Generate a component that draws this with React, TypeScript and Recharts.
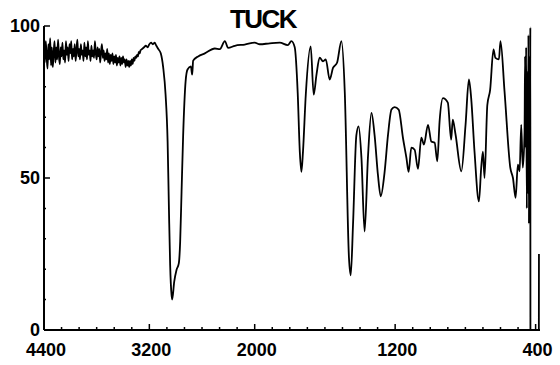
import { LineChart, Line, XAxis, YAxis } from "recharts";

// IR spectrum "TUCK": wavenumber (cm-1) vs transmittance (%)
// noisy O-H region, 4400-3300
const noiseWaves = [
  4400, 4390, 4380, 4370, 4360, 4350, 4340, 4330, 4320, 4310,
  4300, 4290, 4280, 4270, 4260, 4250, 4240, 4230, 4220, 4210,
  4200, 4190, 4180, 4170, 4160, 4150, 4140, 4130, 4120, 4110,
  4100, 4090, 4080, 4070, 4060, 4050, 4040, 4030, 4020, 4010,
  4000, 3990, 3980, 3970, 3960, 3950, 3940, 3930, 3920, 3910,
  3900, 3890, 3880, 3870, 3860, 3850, 3840, 3830, 3820, 3810,
  3800, 3790, 3780, 3770, 3760, 3750, 3740, 3730, 3720, 3710,
  3700, 3690, 3680, 3670, 3660, 3650, 3640, 3630, 3620, 3610,
  3600, 3590, 3580, 3570, 3560, 3550, 3540, 3530, 3520, 3510,
  3500, 3490, 3480, 3470, 3460, 3450, 3440, 3430, 3420, 3410,
  3400, 3390, 3380, 3370, 3360, 3350, 3340, 3330, 3320, 3310,
];
const noiseTrans = [
  92, 88, 95, 90, 86, 94, 89, 96, 87, 93,
  86.5, 91, 95, 88, 93, 89, 95.5, 90, 87.5, 93,
  90, 94.5, 89, 92, 88, 95, 90.5, 93, 88.5, 94,
  91, 95, 89, 92.5, 90, 94, 88.5, 92, 95.5, 90,
  92.5, 89, 94, 90.5, 92, 88.5, 94.5, 90, 93, 89,
  95, 90.5, 92, 88.5, 93.5, 90, 92, 89.5, 95, 91,
  89, 93, 90, 92.5, 88, 91.5, 94, 89.5, 92, 88.5,
  91, 89, 92.5, 88, 91, 87.5, 90.5, 88.5, 91, 87.5,
  90, 88, 90.5, 87, 89.5, 88, 90, 87, 89.5, 87.5,
  90, 88, 89, 86.5, 89, 87, 88.5, 86.5, 88.5, 87,
  89, 87.5, 89.5, 88.5, 90, 89.5, 90.5, 90, 91.5, 91,
];

// 3300-2000 (1x scale)
const waveHigh = [
  3300, 3280, 3260, 3240, 3220, 3200, 3180, 3160, 3140, 3120,
  3100, 3070, 3042, 3015, 2992, 2977, 2963, 2947, 2940, 2917,
  2890, 2864, 2849, 2833, 2815, 2787, 2765, 2727, 2712, 2701,
  2644, 2568, 2454, 2397, 2340, 2303, 2226, 2113, 2000,
];
const transHigh = [
  92, 92.5, 93, 93.5, 93, 94, 94.5, 94, 94.5, 93.5,
  92.5, 91, 86.3, 77.4, 62, 40, 21.4, 11.5, 10, 15.8,
  19.8, 22, 29, 45.5, 64, 81.8, 85.7, 86.7, 84, 88.6,
  90, 91, 92.6, 92.4, 95, 92.8, 93.5, 93.9, 94.5,
];

// 2000-380 (2x scale)
const waveLow = [
  1971, 1914, 1857, 1812, 1791, 1772, 1755, 1743, 1734, 1725,
  1709, 1681, 1664, 1648, 1630, 1611, 1595, 1573, 1554, 1531,
  1506, 1487, 1463, 1453, 1440, 1421, 1408, 1392, 1374, 1355,
  1335, 1317, 1298, 1282, 1260, 1241, 1221, 1203, 1180, 1155,
  1136, 1123, 1108, 1089, 1070, 1051, 1036, 1013, 994, 975,
  960, 947, 928, 900, 881, 872, 856, 823, 799, 780,
  767, 748, 723, 710, 700, 691, 675, 659, 640, 629,
  609, 600, 577, 544, 529, 514, 501, 491, 482, 473,
  463, 460, 457, 454, 450, 447, 444, 441, 438, 435,
  432, 430, 429.5, 381.5, 381,
];
const transLow = [
  94, 94.3, 94.5, 93.7, 95, 93, 78, 58.6, 52, 58.6,
  77.4, 93.3, 77.4, 84, 89.6, 88.4, 89, 82.4, 86.2, 87.9,
  95, 78.4, 23.7, 18, 34.6, 64, 67, 56.7, 32.4, 56.7,
  71.4, 64, 51, 44, 52, 64, 72.5, 73.3, 72.5, 63,
  56.7, 52, 60, 59.3, 53, 63.3, 61, 67.5, 62, 61.6,
  55.5, 68.6, 76.3, 74.8, 62.6, 69.2, 64.3, 52.2, 67.5, 82.4,
  76.3, 58.7, 42.3, 53.3, 58.7, 50, 74, 79, 92.3, 89.5,
  89, 95, 78.5, 53.3, 50, 43.5, 54.4, 52.2, 67.5, 53.4,
  65, 90, 60, 93, 40, 85, 45, 97, 35, 90,
  42, 99.5, 0, 0, 25,
];

const xMajor = [4400, 3200, 2000, 1200, 400];
const yMajor = [0, 50, 100];
const title = "TUCK";

// axis position: 4400..2000 at 1x, 2000..400 at 2x
function toPos(w: number) {
  return w >= 2000 ? 4400 - w : 2400 + (2000 - w) * 2;
}
function fromPos(p: number) {
  return p <= 2400 ? 4400 - p : 2000 - (p - 2400) / 2;
}

const waves = [...noiseWaves, ...waveHigh, ...waveLow];
const trans = [...noiseTrans, ...transHigh, ...transLow];
const data = waves.map((w, i) => ({ pos: toPos(w), t: trans[i] }));

const xTicks: number[] = [];
for (let p = 0; p <= 5600; p += 200) xTicks.push(p);
const yTicks: number[] = [];
for (let v = 0; v <= 100; v += 10) yTicks.push(v);

const labelFont = {
  fontFamily: "'Liberation Sans', Arial, sans-serif",
  fontWeight: 700,
  fontSize: 18,
  fill: "#000",
};

function XTick(props: any) {
  const { x, y, payload } = props;
  const w = Math.round(fromPos(payload.value));
  const major = xMajor.includes(w);
  return (
    <g>
      <line x1={x} x2={x} y1={y} y2={y - (major ? 6 : 3)} stroke="#000" strokeWidth={1.5} />
      {major && (
        <text x={x + 2} y={y + 26} textAnchor="middle" {...labelFont}>
          {w}
        </text>
      )}
    </g>
  );
}

function YTick(props: any) {
  const { x, y, payload } = props;
  const major = yMajor.includes(payload.value);
  return (
    <g>
      <line x1={x} x2={x + (major ? 6 : 2)} y1={y} y2={y} stroke="#000" strokeWidth={1.5} />
      {major && (
        <text x={x - 4} y={y + 6} textAnchor="end" {...labelFont}>
          {payload.value}
        </text>
      )}
    </g>
  );
}

export default function App() {
  return (
    <div style={{ position: "absolute", left: 0, top: 0, width: 560, height: 365, background: "#fff" }}>
      <div
        style={{
          position: "absolute",
          left: 213,
          top: 6,
          width: 100,
          textAlign: "center",
          fontFamily: "'Liberation Sans', Arial, sans-serif",
          fontWeight: 700,
          fontSize: 26,
          lineHeight: "26px",
          letterSpacing: -1.5,
          color: "#000",
        }}
      >
        {title}
      </div>
      <LineChart width={560} height={365} data={data} margin={{ top: 26, right: 20, bottom: 5, left: 0 }}>
        <XAxis
          dataKey="pos"
          type="number"
          domain={[0, 5650]}
          ticks={xTicks}
          interval={0}
          tickSize={0}
          tickMargin={0}
          height={30}
          axisLine={{ stroke: "#000", strokeWidth: 2 }}
          tick={(p: any) => <XTick {...p} />}
        />
        <YAxis
          type="number"
          domain={[0, 100]}
          ticks={yTicks}
          interval={0}
          tickSize={0}
          tickMargin={0}
          width={44}
          axisLine={{ stroke: "#000", strokeWidth: 2 }}
          tick={(p: any) => <YTick {...p} />}
        />
        <Line
          dataKey="t"
          type="monotone"
          stroke="#000"
          strokeWidth={1.8}
          dot={false}
          isAnimationActive={false}
        />
      </LineChart>
    </div>
  );
}
